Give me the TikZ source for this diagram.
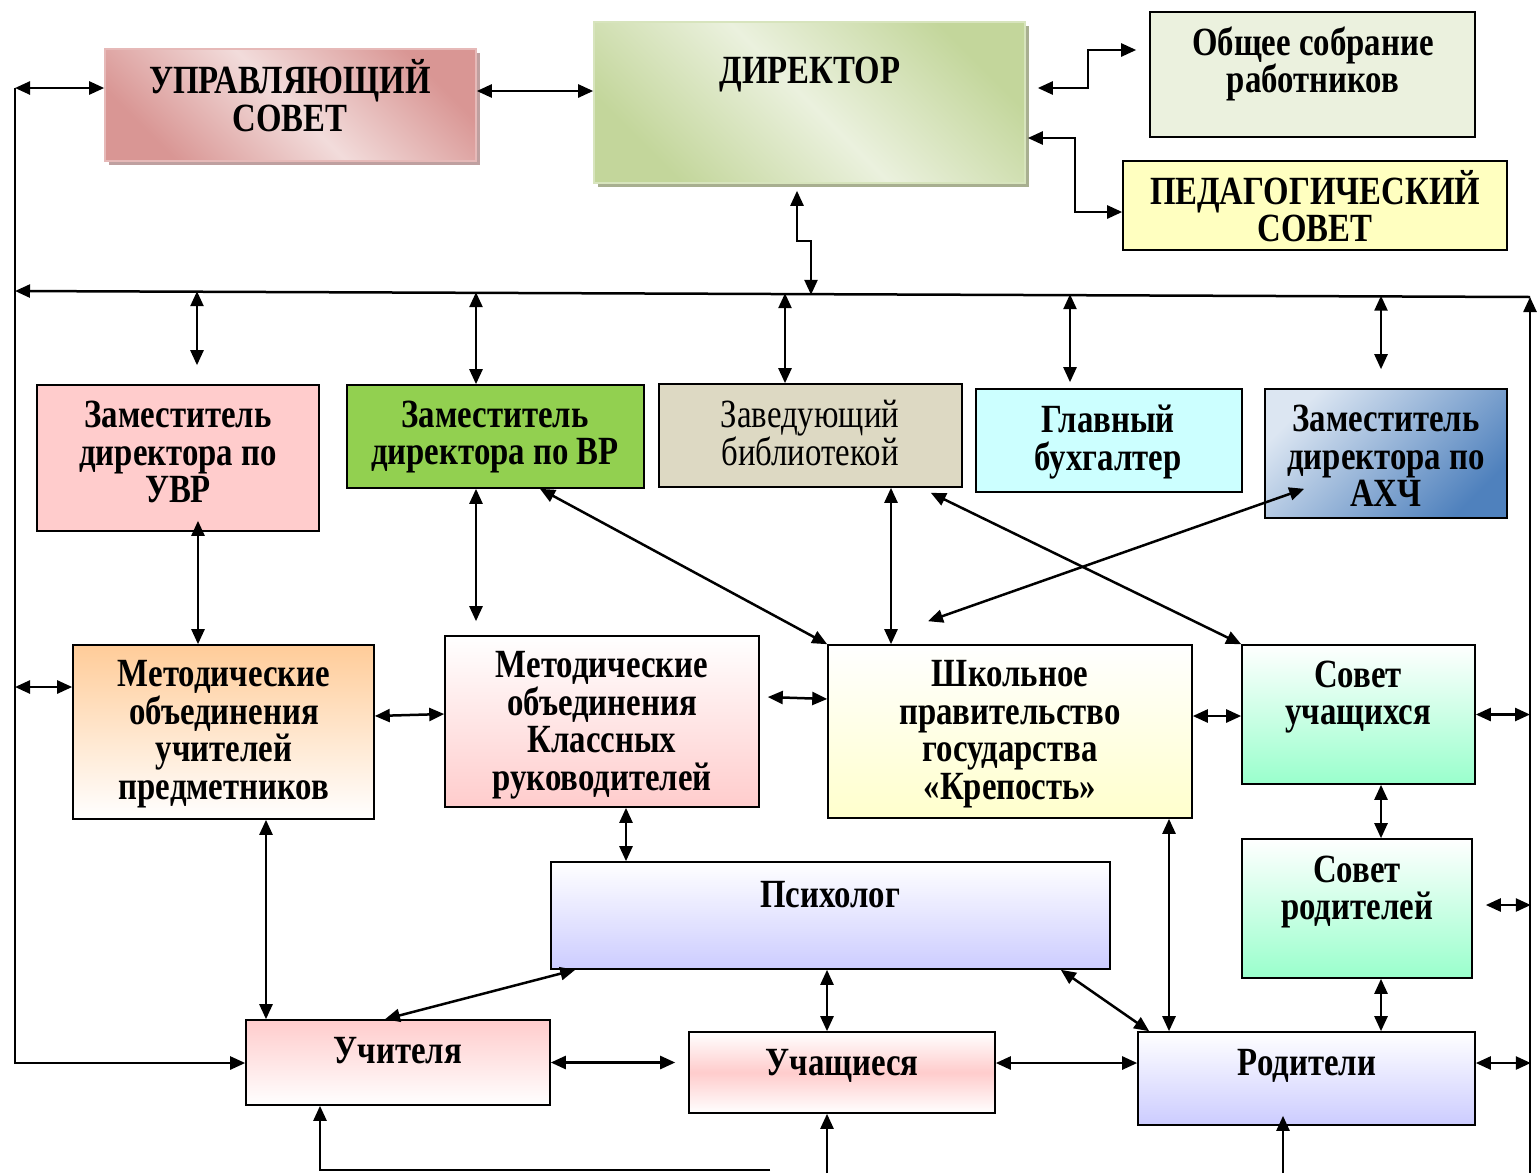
\documentclass[tikz,border=0pt]{standalone}
\usepackage{fontspec}
\setmainfont{Liberation Serif}[FakeStretch=0.82]
\usetikzlibrary{arrows.meta,shadows}

\definecolor{ucDark}{HTML}{D99694}
\definecolor{ucLight}{HTML}{F2DCDB}
\definecolor{ucLine}{HTML}{E6B9B8}
\definecolor{ucShadow}{HTML}{BFA0A0}
\definecolor{dirDark}{HTML}{C3D69B}
\definecolor{dirLight}{HTML}{EBF1DE}
\definecolor{dirLine}{HTML}{D7E4BD}
\definecolor{dirShadow}{HTML}{A8AF90}
\definecolor{osFill}{HTML}{EBF1DE}
\definecolor{pedFill}{HTML}{FFFFC0}
\definecolor{pinkFill}{HTML}{FFCCCC}
\definecolor{vrFill}{HTML}{92D050}
\definecolor{libFill}{HTML}{DDD9C3}
\definecolor{buhFill}{HTML}{CCFFFF}
\definecolor{ahchLight}{HTML}{DCE6F2}
\definecolor{ahchDark}{HTML}{4F81BD}
\definecolor{mopFill}{HTML}{FFCC99}
\definecolor{yelFill}{HTML}{FFFFCC}
\definecolor{mintFill}{HTML}{99FFCC}
\definecolor{lilacFill}{HTML}{CCCCFF}

\newcommand\orgfont{\fontsize{40}{37.5}\selectfont\lineskiplimit=-40pt\lineskip=0pt}

\begin{document}
\begin{tikzpicture}[x=1pt, y=-1pt,
  box/.style={draw, line width=1.6pt, inner sep=0pt},
  lbl/.style={font=\bfseries\orgfont, align=center, inner sep=0pt},
  conn/.style={line width=2.5pt, -{Triangle[length=15pt,width=13pt]}},
  biconn/.style={line width=2.5pt, {Triangle[length=15pt,width=13pt]}-{Triangle[length=15pt,width=13pt]}},
  castshadow/.style={drop shadow={shadow xshift=4pt, shadow yshift=-4pt, fill=#1, opacity=1}}]
\useasboundingbox (0,0) rectangle (1538,1173);

% верхний ряд
\node[box, draw=ucLine, top color=ucDark, bottom color=ucDark, middle color=ucLight, shading angle=-45, castshadow=ucShadow, minimum width=371pt, minimum height=112pt] (uc) at (290.5,105) {};
\node[lbl] (uc-t) at (290,95.5) {УПРАВЛЯЮЩИЙ\\СОВЕТ};
\node[box, draw=dirLine, top color=dirDark, bottom color=dirDark, middle color=dirLight, shading angle=-45, castshadow=dirShadow, minimum width=431pt, minimum height=161pt] (dir) at (809.5,102.5) {};
\node[lbl] (dir-t) at (810,75) {ДИРЕКТОР};
\node[box, fill=osFill, minimum width=325pt, minimum height=125pt] (os) at (1312.5,74.5) {};
\node[lbl] (os-t) at (1313,64) {Общее собрание\\работников};
\node[box, fill=pedFill, minimum width=384pt, minimum height=89pt] (ped) at (1315,205.5) {};
\node[lbl] (ped-t) at (1315,206) {ПЕДАГОГИЧЕСКИЙ\\СОВЕТ};

% заместители
\node[box, fill=pinkFill, minimum width=282pt, minimum height=146pt] (uvr) at (178,458) {};
\node[lbl] (uvr-t) at (178,452) {Заместитель\\директора по\\УВР};
\node[box, fill=vrFill, minimum width=297pt, minimum height=103pt] (vr) at (495.5,436.5) {};
\node[lbl] (vr-t) at (495,437) {Заместитель\\директора по ВР};
\node[box, fill=libFill, minimum width=303pt, minimum height=103pt] (lib) at (810.5,435.5) {};
\node[lbl, font=\orgfont] (lib-t) at (810,433) {Заведующий\\библиотекой};
\node[box, fill=buhFill, minimum width=266pt, minimum height=103pt] (buh) at (1109,440.5) {};
\node[lbl] (buh-t) at (1108,442) {Главный\\бухгалтер};
\node[box, top color=ahchLight, bottom color=ahchDark, shading angle=45, minimum width=242pt, minimum height=129pt] (ahch) at (1386,453.5) {};
\node[lbl] (ahch-t) at (1386,456) {Заместитель\\директора по\\АХЧ};

% объединения и самоуправление
\node[box, top color=mopFill, bottom color=white, minimum width=301pt, minimum height=174pt] (mop) at (223.5,732) {};
\node[lbl] (mop-t) at (224,734) {Методические\\объединения\\учителей\\предметников};
\node[box, top color=white, bottom color=pinkFill, minimum width=314pt, minimum height=171pt] (mok) at (602,721.5) {};
\node[lbl] (mok-t) at (602,725) {Методические\\объединения\\Классных\\руководителей};
\node[box, top color=white, bottom color=yelFill, minimum width=364pt, minimum height=173pt] (shp) at (1010,731.5) {};
\node[lbl] (shp-t) at (1010,734) {Школьное\\правительство\\государства\\«Крепость»};
\node[box, top color=white, bottom color=mintFill, minimum width=233pt, minimum height=139pt] (su) at (1358.5,714.5) {};
\node[lbl] (su-t) at (1358,697) {Совет\\учащихся};
\node[box, top color=white, bottom color=mintFill, minimum width=230pt, minimum height=139pt] (sr) at (1357,908.5) {};
\node[lbl] (sr-t) at (1357,892) {Совет\\родителей};

% нижний ряд
\node[box, top color=white, bottom color=lilacFill, minimum width=559pt, minimum height=107pt] (psy) at (830.5,915.5) {};
\node[lbl] (psy-t) at (830,895) {Психолог};
\node[box, top color=pinkFill, bottom color=white, minimum width=304pt, minimum height=85pt] (uch) at (398,1062.5) {};
\node[lbl] (uch-t) at (398,1051) {Учителя};
\node[box, top color=white, bottom color=white, middle color=pinkFill, minimum width=306pt, minimum height=81pt] (uchsh) at (842,1072.5) {};
\node[lbl] (uchsh-t) at (842,1066) {Учащиеся};
\node[box, top color=white, bottom color=lilacFill, minimum width=337pt, minimum height=93pt] (rod) at (1306.5,1078.5) {};
\node[lbl] (rod-t) at (1307,1066) {Родители};

% рамка связей
\coordinate (busL) at (15,291);
\coordinate (busR) at (1530,297);
\coordinate (railT) at (15,88);
\coordinate (railB) at (15,1063);
\coordinate (railM) at (15,687);
\coordinate (floor) at (0,1173);
\coordinate (botR) at (770,1170);
\coordinate (botL) at (320,1170);
\coordinate (uchshB) at ([xshift=-15pt]uchsh.south);
\coordinate (rodB) at ([xshift=-23.5pt,yshift=10pt]rod.south);

\draw[conn] (busR |- floor) -- (busR);
\draw[conn] (busR) -- (busL);
\draw[biconn] (railT) -- (uc.west |- railT);
\draw[conn] (railT) -- (railB) -- (uch.west |- railB);
\draw[biconn] (railM) -- (railM -| mop.west);

% директор
\draw[biconn] ([yshift=14pt]uc.east) -- ([yshift=14pt]uc.east -| dir.west);
\draw[biconn] ([xshift=12pt,yshift=14.5pt]dir.east) -- ++(50,0) |- ([xshift=-13pt,yshift=24.5pt]os.west);
\draw[biconn] ([xshift=2pt,yshift=-35.5pt]dir.east) -- ++(47,0) |- ([yshift=-6.5pt]ped.west);
\draw[biconn] ([xshift=-12.5pt,yshift=-7pt]dir.south) -- ++(0,50) -- ++(14,0) -- ++(0,54);

% от шины вниз
\draw[biconn] ([xshift=19pt,yshift=93pt]uvr.north) -- ([xshift=19pt,yshift=19pt]uvr.north);
\draw[biconn] ([xshift=-19.5pt,yshift=92pt]vr.north) -- ([xshift=-19.5pt]vr.north);
\draw[biconn] ([xshift=-25.5pt,yshift=90pt]lib.north) -- ([xshift=-25.5pt]lib.north);
\draw[biconn] ([xshift=-39pt,yshift=94pt]buh.north) -- ([xshift=-39pt,yshift=6pt]buh.north);
\draw[biconn] ([xshift=-5pt,yshift=92.5pt]ahch.north) -- ([xshift=-5pt,yshift=19pt]ahch.north);

% средний ярус
\draw[biconn] ([xshift=20pt,yshift=11pt]uvr.south) -- ([xshift=-25.5pt]mop.north);
\draw[biconn] ([xshift=-19.5pt]vr.south) -- ([xshift=-126pt,yshift=14pt]mok.north);
\draw[biconn] ([xshift=44.5pt]vr.south) -- (shp.north west);
\draw[biconn] ([xshift=80.5pt]lib.south) -- ([xshift=-119pt]shp.north);
\draw[biconn] ([xshift=-32pt,yshift=-5pt]lib.south east) -- (su.north west);
\draw[biconn] ([xshift=40pt,yshift=30pt]ahch.south west) -- ([xshift=-82pt,yshift=23pt]shp.north);
\draw[biconn] ([yshift=16pt]mop.east) -- ([yshift=7.5pt]mok.west);
\draw[biconn] ([xshift=8pt,yshift=24.5pt]mok.east) -- ([yshift=32.5pt]shp.west);
\draw[biconn] ([yshift=15.5pt]shp.east) -- ([yshift=15.5pt]shp.east -| su.west);
\draw[biconn] ([xshift=22.5pt]su.south) -- ([xshift=22.5pt]su.south |- sr.north);
\draw[biconn] ([xshift=24pt]sr.south) -- ([xshift=24pt]sr.south |- rod.north);

% нижний ярус
\draw[biconn] ([xshift=24pt]mok.south) -- ([xshift=24pt]mok.south |- psy.north);
\draw[biconn] ([xshift=42.5pt]mop.south) -- ([xshift=42.5pt]mop.south |- uch.north);
\draw[biconn] ([xshift=25pt]psy.south west) -- ([xshift=-13pt]uch.north);
\draw[biconn] ([xshift=-3.5pt]psy.south) -- ([xshift=-3.5pt]psy.south |- uchsh.north);
\draw[biconn] ([xshift=-50pt]psy.south east) -- ([xshift=12pt]rod.north west);
\draw[biconn] ([xshift=159pt]shp.south) -- ([xshift=159pt]shp.south |- rod.north);
\draw[biconn] (uch.east) -- ([xshift=-13pt]uchsh.west |- uch.east);
\draw[biconn] ([yshift=9.5pt]uchsh.east) -- ([yshift=9.5pt]uchsh.east -| rod.west);

% правая сторона
\draw[biconn] (su.east) -- (su.east -| busR);
\draw[biconn] ([xshift=13pt,yshift=3.5pt]sr.east) -- ++(45,0);
\draw[biconn] ([yshift=15.5pt]rod.east) -- ++(55,0);

% снизу
\draw[conn] (botR) -- (botL) -- (botL |- uch.south);
\draw[conn] (uchshB |- floor) -- (uchshB);
\draw[conn] (rodB |- floor) -- (rodB);
\end{tikzpicture}
\end{document}
